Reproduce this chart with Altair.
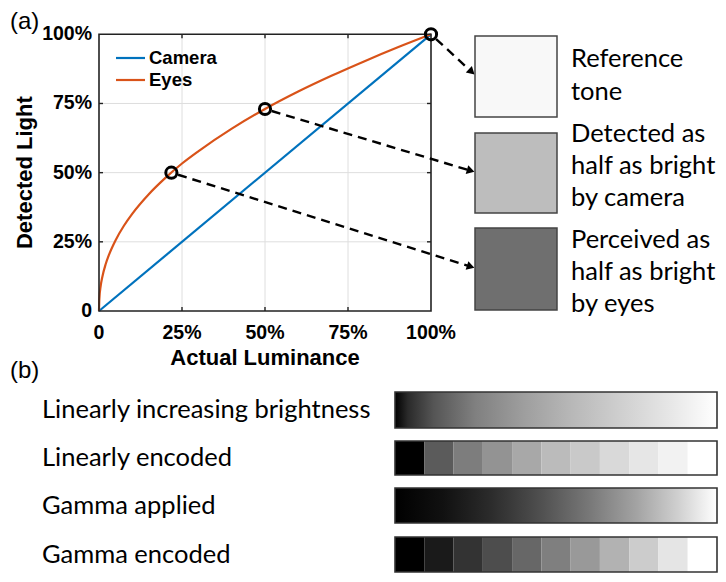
import altair as alt
import pandas as pd
import numpy as np

# ---------------- data ----------------
tick_values = [0.0, 0.25, 0.5, 0.75, 1.0]
tick_labels = ["0", "25%", "50%", "75%", "100%"]

camera_x = [0.0, 1.0]
camera_y = [0.0, 1.0]

eyes_x = [0.0, 0.001, 0.005, 0.01, 0.02, 0.03, 0.05, 0.075, 0.1, 0.15,
          0.2, 0.25, 0.3, 0.4, 0.5, 0.6, 0.7, 0.8, 0.9, 1.0]
eyes_y = [0.0, 0.043, 0.09, 0.123, 0.169, 0.203, 0.256, 0.308, 0.351, 0.422,
          0.481, 0.533, 0.578, 0.659, 0.730, 0.793, 0.850, 0.903, 0.953, 1.0]

marked_x = [1.0, 0.5, 0.218]
marked_y = [1.0, 0.73, 0.5]

series_names = ["Camera", "Eyes"]
series_colors = ["#0072BD", "#D95319"]

swatch_lines = [["Reference", "tone"],
                ["Detected as", "half as bright", "by camera"],
                ["Perceived as", "half as bright", "by eyes"]]
swatch_grays = ["#f8f8f8", "#bdbdbd", "#6f6f6f"]

row_labels = ["Linearly increasing brightness", "Linearly encoded",
              "Gamma applied", "Gamma encoded"]
linear_steps = ["#000000", "#5b5b5b", "#7d7d7d", "#939393", "#a8a8a8", "#bbbbbb",
                "#c9c9c9", "#d9d9d9", "#e6e6e6", "#f2f2f2", "#ffffff"]
gamma_steps = ["#000000", "#1a1a1a", "#333333", "#4d4d4d", "#676767", "#7f7f7f",
               "#999999", "#b2b2b2", "#cccccc", "#e5e5e5", "#ffffff"]
linear_gradient = [(0.0, "#000000"), (0.04, "#2a2a2a"), (0.12, "#555555"), (0.25, "#808080"),
                   (0.4, "#9e9e9e"), (0.55, "#b8b8b8"), (0.7, "#cfcfcf"), (0.85, "#e6e6e6"),
                   (1.0, "#ffffff")]
gamma_gradient = [(0.0, "#000000"), (0.15, "#111111"), (0.3, "#2c2c2c"), (0.45, "#4f4f4f"),
                  (0.6, "#777777"), (0.75, "#a3a3a3"), (0.88, "#d0d0d0"), (1.0, "#ffffff")]

# ---------------- layout (styling) ----------------
W, H = 710, 566
X0, X1 = 99, 431          # page px of 0 and 100% luminance
Y0, Y1 = 311, 34.3        # page px of 0 and 100% detected light
PX_X = X1 - X0
PX_Y = Y0 - Y1


def lx(px):
    return (px - X0) / PX_X


def ly(py):
    return (Y0 - py) / PX_Y


LX = alt.Scale(domain=[0, 1], range=[X0 - 8, X1 - 8])
LY = alt.Scale(domain=[0, 1], range=[Y0 - 8, Y1 - 8])

FONT_A = "Liberation Sans"
FONT_B = "Lato"
SIZE_B = 25.5


def X(f):
    return alt.X(f, type="quantitative", scale=LX, axis=None)


def Y(f):
    return alt.Y(f, type="quantitative", scale=LY, axis=None)


# ---------------- panel (a) ----------------
gv = tick_values[1:4]
vgrid_df = pd.DataFrame({"x": gv, "y1": [0.0] * 3, "y2": [1.0] * 3})
hgrid_df = pd.DataFrame({"y": gv, "x1": [0.0] * 3, "x2": [1.0] * 3})
vgrid = alt.Chart(vgrid_df).mark_rule(color="#dedede", strokeWidth=1).encode(
    x=X("x"), y=Y("y1"), y2="y2")
hgrid = alt.Chart(hgrid_df).mark_rule(color="#dedede", strokeWidth=1).encode(
    y=Y("y"), x=X("x1"), x2="x2")

# small inward tick marks on all four sides (MATLAB box style)
tlx, tly = 4 / PX_X, 4 / PX_Y
tk_rows = []
for v in gv:
    tk_rows.append({"x1": v, "x2": v, "y1": 0.0, "y2": tly})
    tk_rows.append({"x1": v, "x2": v, "y1": 1.0 - tly, "y2": 1.0})
    tk_rows.append({"x1": 0.0, "x2": tlx, "y1": v, "y2": v})
    tk_rows.append({"x1": 1.0 - tlx, "x2": 1.0, "y1": v, "y2": v})
tk_df = pd.DataFrame(tk_rows)
ticks = alt.Chart(tk_df).mark_rule(color="#222222", strokeWidth=1.4).encode(
    x=X("x1"), x2="x2", y=Y("y1"), y2="y2")

box_df = pd.DataFrame({"x1": [0.0], "x2": [1.0], "y1": [0.0], "y2": [1.0]})
box = alt.Chart(box_df).mark_rect(
    fill="transparent", stroke="#222222", strokeWidth=1.6).encode(
    x=X("x1"), x2="x2", y=Y("y1"), y2="y2")

curves = pd.DataFrame({
    "x": camera_x + eyes_x,
    "y": camera_y + eyes_y,
    "s": ["Camera"] * len(camera_x) + ["Eyes"] * len(eyes_x),
})
lines = alt.Chart(curves).mark_line(strokeWidth=2.2, interpolate="monotone").encode(
    x=X("x"), y=Y("y"),
    color=alt.Color("s:N", scale=alt.Scale(domain=series_names, range=series_colors), legend=None),
)

# arrows from marked points to swatches
tips_x = [lx(475)] * 3
tips_y = [ly(75), ly(172), ly(268)]
ax = np.array(marked_x) * PX_X
ay = -np.array(marked_y) * PX_Y
tx = np.array(tips_x) * PX_X
ty = -np.array(tips_y) * PX_Y
dx, dy = tx - ax, ty - ay
ln = np.hypot(dx, dy)
ux, uy = dx / ln, dy / ln
arrow_df = pd.DataFrame({
    "x1": (ax + 7 * ux) / PX_X, "y1": -(ay + 7 * uy) / PX_Y,
    "x2": (tx - 7 * ux) / PX_X, "y2": -(ty - 7 * uy) / PX_Y,
    "hx": (tx - 4.5 * ux) / PX_X, "hy": -(ty - 4.5 * uy) / PX_Y,
    "ang": np.degrees(np.arctan2(dy, dx)),
})
arrows = alt.Chart(arrow_df).mark_rule(color="black", strokeWidth=2.4, strokeDash=[9, 6]).encode(
    x=X("x1"), y=Y("y1"), x2="x2", y2="y2")
heads = alt.Chart(arrow_df).mark_point(shape="triangle-right", filled=True, color="black",
                                       size=80, opacity=1).encode(
    x=X("hx"), y=Y("hy"), angle=alt.Angle("ang:Q", scale=None))

circles = alt.Chart(pd.DataFrame({"x": marked_x, "y": marked_y})).mark_point(
    shape="circle", size=125, strokeWidth=3, color="black", filled=False, opacity=1).encode(
    x=X("x"), y=Y("y"))

# tick labels
xtick_df = pd.DataFrame({"v": tick_values, "t": tick_labels, "p": [ly(333)] * 5})
ytick_df = pd.DataFrame({"v": tick_values, "t": tick_labels, "p": [lx(92)] * 5})
xticks = alt.Chart(xtick_df).mark_text(font=FONT_A, fontWeight="bold", fontSize=19.5,
                                       align="center", baseline="middle").encode(
    x=X("v"), y=Y("p"), text="t:N")
yticks = alt.Chart(ytick_df).mark_text(font=FONT_A, fontWeight="bold", fontSize=19.5,
                                       align="right", baseline="middle").encode(
    y=Y("v"), x=X("p"), text="t:N")

xtitle_df = pd.DataFrame({"t": ["Actual Luminance"], "x": [0.5], "y": [ly(358)]})
ytitle_df = pd.DataFrame({"t": ["Detected Light"], "x": [lx(25)], "y": [0.5]})
xtitle = alt.Chart(xtitle_df).mark_text(
    font=FONT_A, fontWeight="bold", fontSize=22, align="center", baseline="middle").encode(
    x=X("x"), y=Y("y"), text="t:N")
ytitle = alt.Chart(ytitle_df).mark_text(
    font=FONT_A, fontWeight="bold", fontSize=22, align="center", baseline="middle", angle=270).encode(
    x=X("x"), y=Y("y"), text="t:N")

panel_df = pd.DataFrame({"t": ["(a)", "(b)"], "x": [lx(10), lx(10)], "y": [ly(22), ly(371)]})
panel_labels = alt.Chart(panel_df).mark_text(
    font=FONT_A, fontSize=24, align="left", baseline="middle").encode(
    x=X("x"), y=Y("y"), text="t:N")

# legend
leg_df = pd.DataFrame({"s": series_names, "y": [ly(58), ly(80)],
                       "x1": [lx(116)] * 2, "x2": [lx(145)] * 2, "xt": [lx(149)] * 2})
leg_lines = alt.Chart(leg_df).mark_rule(strokeWidth=2.2).encode(
    x=X("x1"), x2="x2", y=Y("y"),
    color=alt.Color("s:N", scale=alt.Scale(domain=series_names, range=series_colors), legend=None))
leg_text = alt.Chart(leg_df).mark_text(font=FONT_A, fontWeight="bold", fontSize=18.5,
                                       align="left", baseline="middle").encode(
    x=X("xt"), y=Y("y"), text="s:N")

# swatches
sw_top = [36, 133, 228]
sw_bot = [117, 213, 310]
sw_df = pd.DataFrame({"x1": [lx(475)] * 3, "x2": [lx(557)] * 3,
                      "y1": [ly(v) for v in sw_top], "y2": [ly(v) for v in sw_bot],
                      "c": swatch_grays})
swatches = alt.Chart(sw_df).mark_rect(stroke="#444444", strokeWidth=1.5).encode(
    x=X("x1"), x2="x2", y=Y("y1"), y2="y2",
    fill=alt.Fill("c:N", scale=None))

baselines = [[67, 100], [142, 174, 206], [248, 280, 312]]
sw_txt_rows = []
for lines_, bls in zip(swatch_lines, baselines):
    for t, b in zip(lines_, bls):
        sw_txt_rows.append({"t": t, "y": ly(b), "x": lx(571)})
sw_txt_df = pd.DataFrame(sw_txt_rows)
sw_text = alt.Chart(sw_txt_df).mark_text(font=FONT_B, fontSize=SIZE_B, align="left",
                                         baseline="alphabetic", color="black").encode(
    x=X("x"), y=Y("y"), text="t:N")

# ---------------- panel (b) ----------------
bar_left, bar_right = lx(395), lx(717)
bar_top = [392, 441, 488, 537]
bar_bot = [428, 475, 523, 572]
rows_df = pd.DataFrame({
    "r": row_labels,
    "x1": [bar_left] * 4, "x2": [bar_right] * 4,
    "y1": [ly(v) for v in bar_top], "y2": [ly(v) for v in bar_bot],
    "ym": [ly((a + b) / 2) for a, b in zip(bar_top, bar_bot)],
    "xl": [lx(42)] * 4,
})


def grad(stops):
    return {"gradient": "linear", "x1": 0, "x2": 1, "y1": 0, "y2": 0,
            "stops": [{"offset": o, "color": c} for o, c in stops]}


def grad_bar(idx, stops):
    return alt.Chart(rows_df.iloc[[idx]]).mark_rect(fill=grad(stops)).encode(
        x=X("x1"), x2="x2", y=Y("y1"), y2="y2")


steps_rows = []
for k, cols in [(1, linear_steps), (3, gamma_steps)]:
    n = len(cols)
    for i, c in enumerate(cols):
        steps_rows.append({
            "x1": bar_left + (bar_right - bar_left) * i / n,
            "x2": bar_left + (bar_right - bar_left) * (i + 1) / n,
            "y1": ly(bar_top[k]), "y2": ly(bar_bot[k]), "c": c})
steps_df = pd.DataFrame(steps_rows)
steps = alt.Chart(steps_df).mark_rect().encode(
    x=X("x1"), x2="x2", y=Y("y1"), y2="y2",
    fill=alt.Fill("c:N", scale=None))

outlines = alt.Chart(rows_df).mark_rect(fill="transparent", stroke="#333333", strokeWidth=1.6).encode(
    x=X("x1"), x2="x2", y=Y("y1"), y2="y2")

row_text = alt.Chart(rows_df).mark_text(font=FONT_B, fontSize=SIZE_B, align="left",
                                        baseline="middle", color="black").encode(
    x=X("xl"), y=Y("ym"), text="r:N")

chart = alt.layer(
    vgrid, hgrid, ticks, lines, box, arrows, heads, circles, xticks, yticks,
    xtitle, ytitle, panel_labels, leg_lines, leg_text, swatches, sw_text,
    grad_bar(0, linear_gradient), grad_bar(2, gamma_gradient), steps, outlines, row_text
).properties(
    width=W, height=H, autosize=alt.AutoSizeParams(type="none"), padding=0
).configure_view(stroke=None)

chart.save("out.html", embed_options={"renderer": "svg", "actions": False})
